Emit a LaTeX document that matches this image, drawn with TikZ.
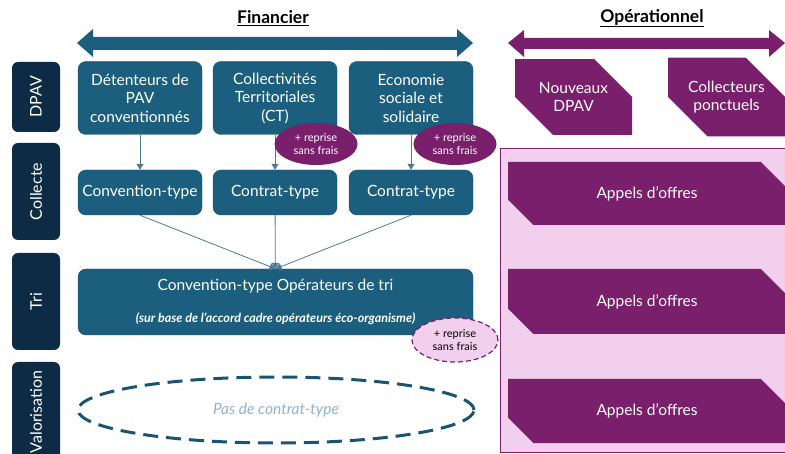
\documentclass[tikz,border=0pt]{standalone}
\usepackage{fontspec}
\setmainfont{Lato}
\usepackage{xcolor}
\usetikzlibrary{arrows.meta,shapes.misc,shapes.geometric}
\definecolor{navy}{HTML}{0E2B45}
\definecolor{finblue}{HTML}{1C5E7D}
\definecolor{linkblue}{HTML}{4A7C94}
\definecolor{oppurple}{HTML}{7A1F6B}
\definecolor{oppink}{HTML}{F2CFEC}
\definecolor{paleblue}{HTML}{8DB2D0}

\begin{document}
\begin{tikzpicture}[x=1pt,y=-1pt,
        lane/.style={fill=navy, rounded corners=6pt, text=white, rotate=90, minimum height=48pt, inner sep=0pt, font=\fontsize{16}{18}\selectfont},
        finbox/.style={fill=finblue, draw=finblue!85!black, rounded corners=8pt, text=white, align=center, inner sep=0pt, minimum width=124pt, font=\fontsize{15.5}{18.5}\selectfont},
        opbox/.style={chamfered rectangle, chamfered rectangle corners={north east,south west}, chamfered rectangle sep=23pt, fill=oppurple, text=white, align=center, inner sep=0pt, font=\fontsize{15.5}{18.5}\selectfont},
        reprise/.style={ellipse, fill=oppurple, text=white, align=center, inner sep=0pt, minimum width=83pt, minimum height=42pt, font=\fontsize{11}{13}\selectfont},
        link/.style={draw=linkblue, line width=0.8pt, -{Triangle[width=7pt,length=6pt]}}]
                % \draw[style=help lines] (0,0) grid[step=50] (785,454);
                \useasboundingbox (0,0) rectangle (785,454);
                \node[font=\bfseries\fontsize{17.5}{20}\selectfont] (fin) at (273,18) {\underline{Financier}};
                \node[font=\bfseries\fontsize{17.5}{20}\selectfont] (ope) at (652,18) {\underline{Opérationnel}};
                \fill[finblue] (77,43) -- (93,29) -- (93,37) -- (457,37) -- (457,29) -- (473,43) -- (457,57) -- (457,50) -- (93,50) -- (93,57) -- cycle;
                \fill[oppurple] (508,43) -- (524,30) -- (524,38) -- (769,38) -- (769,30) -- (785,43) -- (769,57) -- (769,49) -- (524,49) -- (524,57) -- cycle;
                \node[lane, minimum width=70pt] (dpav) at (36,97) {DPAV};
                \node[lane, minimum width=97pt] (collecte) at (36,191.5) {Collecte};
                \node[lane, minimum width=97pt] (tri) at (36,301.5) {Tri};
                \node[lane, minimum width=100pt] (valo) at (36,412) {Valorisation};
                \node[finbox, minimum height=73pt] (detenteurs) at (140,98) {Détenteurs de\\PAV\\conventionnés};
                \node[finbox, minimum height=73pt, yshift=-1.5pt] (ct) at (275,96.5) {Collectivités\\Territoriales\\(CT)};
                \node[finbox, minimum height=73pt, yshift=-1.5pt] (ess) at (411,96.5) {Economie\\sociale et\\solidaire};
                \node[finbox, minimum height=45pt] (convtype) at (140,192.5) {Convention-type};
                \node[finbox, minimum height=45pt] (contratct) at (275,192.5) {Contrat-type};
                \node[finbox, minimum height=45pt] (contratess) at (411,192.5) {Contrat-type};
                \node[finbox, minimum width=395pt, minimum height=66pt] (operateurs) at (275.5,302) {Convention-type Opérateurs de tri\\[13pt]{\fontsize{12.5}{14}\selectfont\bfseries\itshape (sur base de l'accord cadre opérateurs éco-organisme)}};
                \draw[link] (detenteurs) -- (convtype);
                \draw[link] (ct) -- (contratct);
                \draw[link] (ess) -- (contratess);
                \draw[link] (convtype.south) -- (operateurs.north);
                \draw[link] (contratct) -- (operateurs);
                \draw[link] (contratess.south) -- (operateurs.north);
                \node[reprise] (repct) at (316,144) {+ reprise\\sans frais};
                \node[reprise] (repess) at (455,144) {+ reprise\\sans frais};
                \node[reprise, fill=oppink, text=black, draw=oppurple, line width=1.2pt, dash pattern=on 5pt off 3pt, minimum width=86pt, minimum height=44pt] (reptri) at (455,340) {+ reprise\\sans frais};
                \node[ellipse, draw=finblue!80!navy, line width=3pt, dash pattern=on 15pt off 8pt, minimum width=396pt, minimum height=66pt, text=paleblue, font=\itshape\fontsize{15.5}{18}\selectfont] (pascontrat) at (276,410) {Pas de contrat-type};
                \filldraw[fill=oppink, draw=oppurple, line width=0.8pt] (500,148) rectangle (790,452);
                \node[opbox, minimum width=117pt, minimum height=70pt] (nouveaux) at (573.5,97) {Nouveaux\\DPAV};
                \node[opbox, minimum width=117pt, minimum height=70pt] (collecteurs) at (726.5,97) {Collecteurs\\ponctuels};
                \node[opbox, chamfered rectangle sep=18pt, minimum width=278pt, minimum height=63pt] (ao1) at (647,193.5) {Appels d’offres};
                \node[opbox, chamfered rectangle sep=18pt, minimum width=278pt, minimum height=65pt] (ao2) at (647,301.5) {Appels d’offres};
                \node[opbox, chamfered rectangle sep=18pt, minimum width=278pt, minimum height=64pt] (ao3) at (647,411) {Appels d’offres};
            \end{tikzpicture}
\end{document}
